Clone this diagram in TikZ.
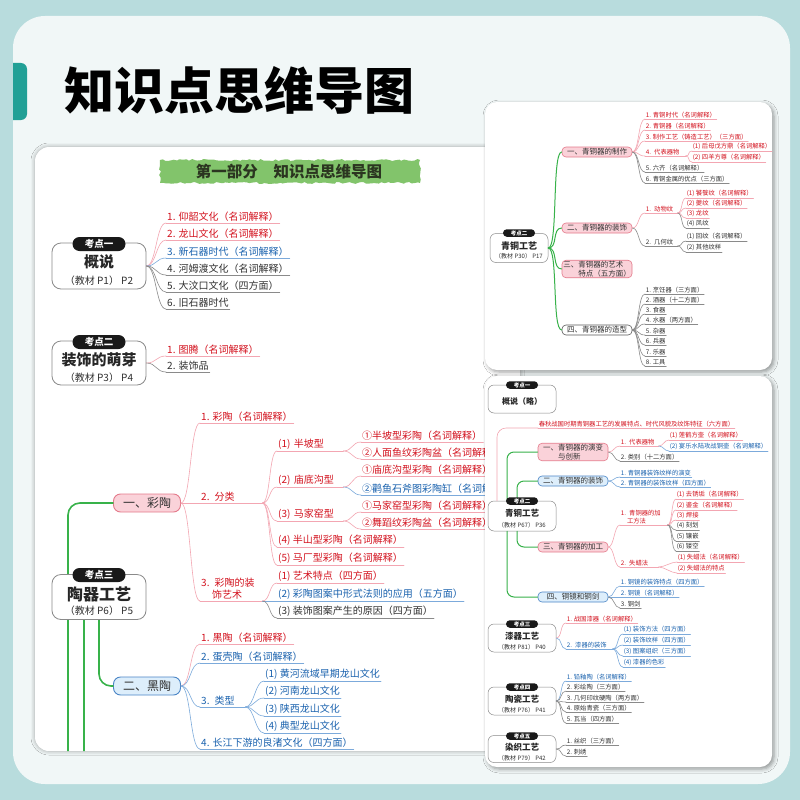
\documentclass[tikz,border=0pt]{standalone}
\usepackage{fontspec}
\setmainfont{Noto Sans CJK SC}
\usetikzlibrary{positioning,shadows.blur,decorations.pathmorphing}

\definecolor{bgteal}{HTML}{B8DCDD}
\definecolor{panel}{HTML}{F1F7F7}
\definecolor{tabteal}{HTML}{21A096}
\definecolor{rtxt}{HTML}{D3121E}
\definecolor{rln}{HTML}{F3A6B2}
\definecolor{btxt}{HTML}{1A62AE}
\definecolor{bln}{HTML}{7CAADB}
\definecolor{dtxt}{HTML}{303030}
\definecolor{dln}{HTML}{8A8A8A}
\definecolor{gln}{HTML}{38B24A}
\definecolor{pkfill}{HTML}{FAD2D9}
\definecolor{pkdraw}{HTML}{E47A8B}
\definecolor{blfill}{HTML}{DDEEFB}
\definecolor{bldraw}{HTML}{4A85C6}
\definecolor{brush}{HTML}{82C46B}
\definecolor{bantxt}{HTML}{2B3520}

\newcommand{\fs}[2]{\fontsize{#1}{#2}\selectfont}

\begin{document}
\begin{tikzpicture}[x=1pt,y=-1pt,line cap=round,line join=round,
  br/.style={to path={.. controls +(#1,0) and +(-#1,0) .. (\tikztotarget)}},br/.default=10,
  cr/.style={draw=rln,line width=0.6pt},
  cb/.style={draw=bln,line width=0.6pt},
  cd/.style={draw=dln,line width=0.6pt},
  itm/.style={anchor=south west,inner xsep=1pt,inner ysep=1.4pt,font=\fs{10}{12}},
  ri/.style={itm,text=rtxt,append after command={(\tikzlastnode.south west) edge[cr] (\tikzlastnode.south east)}},
  bi/.style={itm,text=btxt,append after command={(\tikzlastnode.south west) edge[cb] (\tikzlastnode.south east)}},
  di/.style={itm,text=dtxt,append after command={(\tikzlastnode.south west) edge[cd] (\tikzlastnode.south east)}},
  sm/.style={font=\fs{6.3}{7.8},inner xsep=0.6pt,inner ysep=0.9pt},
  fk/.style={text width=#1,align=left},
  kbox/.style={draw=dln,line width=0.8pt,fill=white,rounded corners=9pt,minimum width=94pt,minimum height=46pt,inner sep=0pt},
  pill/.style={fill=black!90,text=white,rounded corners=7pt,inner sep=0pt,minimum width=53pt,minimum height=14pt,font=\fs{9.5}{10}\bfseries},
  kt/.style={font=\fs{15}{16}\bfseries,text=black!85,inner sep=0pt},
  ks/.style={font=\fs{10}{11},text=dtxt,inner sep=0pt},
  pn/.style={fill=pkfill,draw=pkdraw,line width=0.9pt,rounded corners=7pt,minimum width=67pt,minimum height=18pt,inner sep=1pt,font=\fs{12}{13},text=dtxt},
  bn/.style={pn,fill=blfill,draw=bldraw},
  wn/.style={pn,fill=white,draw=dtxt!80},
  sn/.style={minimum width=70pt,minimum height=10pt,rounded corners=4pt,line width=0.6pt,font=\fs{7.5}{8.5},align=left},
  sbox/.style={kbox,minimum width=68pt,minimum height=28pt,rounded corners=6pt,line width=0.5pt},
  spill/.style={pill,minimum width=32pt,minimum height=7.5pt,rounded corners=3.7pt,font=\fs{5.5}{6}\bfseries},
  skt/.style={kt,font=\fs{8.5}{9}\bfseries},
  sks/.style={ks,font=\fs{6}{7}},
  gl/.style={draw=gln,line width=1.6pt},
  gls/.style={draw=gln,line width=1pt}]

  \useasboundingbox (0,0) rectangle (800,800);
  \fill[bgteal] (0,0) rectangle (800,800);
  \fill[panel,rounded corners=32pt] (13,16) rectangle (790,784);
  \begin{scope}
    \clip (13,0) rectangle (40,200);
    \fill[tabteal,rounded corners=6pt] (0,63) rectangle (27,120);
  \end{scope}
  \node[font=\fs{50}{52}\bfseries,text=black,inner sep=0pt] (ttl) at (239,90) {知识点思维导图};

  % main card
  \fill[white,rounded corners=14pt,blur shadow={shadow xshift=0pt,shadow yshift=0pt,shadow blur radius=4pt,shadow opacity=35}] (35,147) rectangle (520,751);
  \begin{scope}
  \clip[rounded corners=14pt] (35,147) rectangle (520,751);
  \fill[brush,decorate,decoration={random steps,segment length=3pt,amplitude=1pt}] (160,160) rectangle (420,183);
  \node[font=\fs{15.5}{16}\bfseries,text=bantxt,inner sep=0pt] (bann) at (289,172) {第一部分\hspace{16pt}知识点思维导图};

  % kaodian 1
  \node[kbox] (kd1) at (99,266) {};
  \node[pill] (kd1p) at (99,244) {考点一};
  \node[kt] (kd1t) at (99,262) {概说};
  \node[ks] (kd1s) at (99,281) {（教材 P1） P2};
  \node[ri] (a1) at (166,223) {1. 仰韶文化（名词解释）};
  \node[ri] (a2) at (166,240) {2. 龙山文化（名词解释）};
  \node[bi] (a3) at (166,258) {3. 新石器时代（名词解释）};
  \node[di] (a4) at (166,275) {4. 河姆渡文化（名词解释）};
  \node[di] (a5) at (166,292) {5. 大汶口文化（四方面）};
  \node[di] (a6) at (166,309) {6. 旧石器时代};
  \draw[cr] (kd1.east) to[br] (a1.south west);
  \draw[cr] (kd1.east) to[br] (a2.south west);
  \draw[cb] (kd1.east) to[br] (a3.south west);
  \draw[cd] (kd1.east) to[br] (a4.south west);
  \draw[cd] (kd1.east) to[br] (a5.south west);
  \draw[cd] (kd1.east) to[br] (a6.south west);

  % kaodian 2
  \node[kbox,minimum height=44pt] (kd2) at (99,363) {};
  \node[pill] (kd2p) at (99,342) {考点二};
  \node[kt] (kd2t) at (99,360) {装饰的萌芽};
  \node[ks] (kd2s) at (99,378) {（教材 P3） P4};
  \node[ri] (b1) at (166,356) {1. 图腾（名词解释）};
  \node[di] (b2) at (166,372) {2. 装饰品};
  \draw[cr] (kd2.east) to[br] (b1.south west);
  \draw[cd] (kd2.east) to[br] (b2.south west);

  % kaodian 3
  \node[pn] (cai) at (147,503) {一、彩陶};
  \node[bn] (hei) at (147,686) {二、黑陶};
  \draw[gl,rounded corners=12pt] (68,760) |- (cai.west);
  \draw[gl,rounded corners=12pt] (99,610) |- (hei.west);
  \draw[gl] (84,610) -- (84,760);
  \node[kbox,minimum height=45pt] (kd3) at (99,597) {};
  \node[pill] (kd3p) at (99,575) {考点三};
  \node[kt,font=\fs{16}{17}\bfseries] (kd3t) at (99,594) {陶器工艺};
  \node[ks] (kd3s) at (99,611) {（教材 P6） P5};

  \node[ri] (c1) at (200,423) {1. 彩陶（名词解释）};
  \node[ri,fk=60pt] (c2) at (200,503) {2. 分类};
  \node[ri,fk=60pt] (c3) at (200,601) {3. 彩陶的装\\\hspace{1.1em}饰艺术};
  \draw[cr] (cai.east) to[br] (c1.south west);
  \draw[cr] (cai.east) to[br] (c2.south west);
  \draw[cr] (cai.east) to[br] (c3.south west);

  \node[ri,fk=64pt] (d1) at (277,451) {(1) 半坡型};
  \node[ri,fk=64pt] (d2) at (277,487) {(2) 庙底沟型};
  \node[ri,fk=64pt] (d3) at (277,521) {(3) 马家窑型};
  \node[ri] (d4) at (277,547) {(4) 半山型彩陶（名词解释）};
  \node[ri] (d5) at (277,565) {(5) 马厂型彩陶（名词解释）};
  \draw[cr] (c2.south east) to[br=8] (d1.south west);
  \draw[cr] (c2.south east) to[br=8] (d2.south west);
  \draw[cr] (c2.south east) to[br=8] (d3.south west);
  \draw[cr] (c2.south east) to[br=8] (d4.south west);
  \draw[cr] (c2.south east) to[br=8] (d5.south west);

  \node[ri] (e1) at (361,442) {①半坡型彩陶（名词解释）};
  \node[ri] (e2) at (361,459) {②人面鱼纹彩陶盆（名词解释）};
  \node[ri] (e3) at (361,476) {①庙底沟型彩陶（名词解释）};
  \node[bi] (e4) at (361,495) {②鹳鱼石斧图彩陶缸（名词解释）};
  \node[ri] (e5) at (361,512) {①马家窑型彩陶（名词解释）};
  \node[ri] (e6) at (361,529) {②舞蹈纹彩陶盆（名词解释）};
  \draw[cr] (d1.south east) to[br=9] (e1.south west);
  \draw[cr] (d1.south east) to[br=9] (e2.south west);
  \draw[cr] (d2.south east) to[br=9] (e3.south west);
  \draw[cb] (d2.south east) to[br=9] (e4.south west);
  \draw[cr] (d3.south east) to[br=9] (e5.south west);
  \draw[cr] (d3.south east) to[br=9] (e6.south west);

  \node[ri] (f1) at (277,583) {(1) 艺术特点（四方面）};
  \node[bi] (f2) at (277,601) {(2) 彩陶图案中形式法则的应用（五方面）};
  \node[di] (f3) at (277,618) {(3) 装饰图案产生的原因（四方面）};
  \draw[cr] (c3.south east) to[br=8] (f1.south west);
  \draw[cb] (c3.south east) to[br=8] (f2.south west);
  \draw[cd] (c3.south east) to[br=8] (f3.south west);

  \node[ri] (g1) at (200,644) {1. 黑陶（名词解释）};
  \node[bi] (g2) at (200,663) {2. 蛋壳陶（名词解释）};
  \node[bi,fk=43pt] (g3) at (200,707) {3. 类型};
  \node[bi] (g4) at (200,749) {4. 长江下游的良渚文化（四方面）};
  \draw[cr] (hei.east) to[br] (g1.south west);
  \draw[cb] (hei.east) to[br] (g2.south west);
  \draw[cb] (hei.east) to[br] (g3.south west);
  \draw[cb] (hei.east) to[br] (g4.south west);

  \node[bi] (h1) at (264,681) {(1) 黄河流域早期龙山文化};
  \node[bi] (h2) at (264,698) {(2) 河南龙山文化};
  \node[bi] (h3) at (264,716) {(3) 陕西龙山文化};
  \node[bi] (h4) at (264,733) {(4) 典型龙山文化};
  \draw[cb] (g3.south east) to[br=9] (h1.south west);
  \draw[cb] (g3.south east) to[br=9] (h2.south west);
  \draw[cb] (g3.south east) to[br=9] (h3.south west);
  \draw[cb] (g3.south east) to[br=9] (h4.south west);
  \end{scope}

  % top right card
  \fill[white,rounded corners=12pt,blur shadow={shadow xshift=2pt,shadow yshift=-2pt,shadow blur radius=4pt,shadow opacity=40}] (485,102) rectangle (772,370);
  \node[pn,sn] (q1) at (597,152) {一、青铜器的制作};
  \node[pn,sn] (q2) at (597,228) {二、青铜器的装饰};
  \node[pn,sn] (q3) at (597,269) {三、青铜器的艺术\\\hspace{2em}特点（五方面）};
  \node[wn,sn] (q4) at (597,330) {四、青铜器的造型};
  \node[sbox,minimum width=58pt,minimum height=29pt] (kdb) at (519,248) {};
  \node[spill] (kdbp) at (519,233) {考点二};
  \node[skt,font=\fs{9}{10}\bfseries] (kdbt) at (519,246) {青铜工艺};
  \node[sks] (kdbs) at (519,256) {（教材 P30） P17};
  \draw[gls] (kdb.east) to[br=10] (q1.west);
  \draw[gls] (kdb.east) to[br=10] (q2.west);
  \draw[gls] (kdb.east) to[br=10] (q3.west);
  \draw[gls] (kdb.east) to[br=10] (q4.west);

  \node[ri,sm] (r1) at (645,119) {1. 青铜时代（名词解释）};
  \node[ri,sm] (r2) at (645,130) {2. 青铜器（名词解释）};
  \node[ri,sm] (r3) at (645,141) {3. 制作工艺（铸造工艺）（三方面）};
  \node[ri,sm,fk=39pt] (r4) at (645,156) {4. 代表器物};
  \node[di,sm] (r5) at (645,172) {5. 六齐（名词解释）};
  \node[di,sm] (r6) at (645,183) {6. 青铜金属的优点（三方面）};
  \draw[cr] (q1.east) to[br=7] (r1.south west);
  \draw[cr] (q1.east) to[br=7] (r2.south west);
  \draw[cr] (q1.east) to[br=7] (r3.south west);
  \draw[cr] (q1.east) to[br=7] (r4.south west);
  \draw[cd] (q1.east) to[br=7] (r5.south west);
  \draw[cd] (q1.east) to[br=7] (r6.south west);
  \node[ri,sm] (s1) at (692,151) {(1) 后母戊方鼎（名词解释）};
  \node[ri,sm] (s2) at (692,162) {(2) 四羊方尊（名词解释）};
  \draw[cr] (r4.south east) to[br=5] (s1.south west);
  \draw[cr] (r4.south east) to[br=5] (s2.south west);

  \node[ri,sm,fk=31pt] (t1) at (645,213) {1. 动物纹};
  \node[di,sm,fk=31pt] (t2) at (645,246) {2. 几何纹};
  \draw[cr] (q2.east) to[br=7] (t1.south west);
  \draw[cd] (q2.east) to[br=7] (t2.south west);
  \node[ri,sm] (u1) at (686,198) {(1) 饕餮纹（名词解释）};
  \node[ri,sm] (u2) at (686,208) {(2) 夔纹（名词解释）};
  \node[ri,sm] (u3) at (686,218) {(3) 龙纹};
  \node[di,sm] (u4) at (686,228) {(4) 凤纹};
  \node[di,sm] (u5) at (686,241) {(1) 回纹（名词解释）};
  \node[di,sm] (u6) at (686,252) {(2) 其他纹样};
  \draw[cr] (t1.south east) to[br=5] (u1.south west);
  \draw[cr] (t1.south east) to[br=5] (u2.south west);
  \draw[cr] (t1.south east) to[br=5] (u3.south west);
  \draw[cd] (t1.south east) to[br=5] (u4.south west);
  \draw[cd] (t2.south east) to[br=5] (u5.south west);
  \draw[cd] (t2.south east) to[br=5] (u6.south west);

  \node[di,sm] (v1) at (645,294) {1. 烹饪器（三方面）};
  \node[di,sm] (v2) at (645,304) {2. 酒器（十二方面）};
  \node[di,sm] (v3) at (645,314) {3. 食器};
  \node[di,sm] (v4) at (645,324) {4. 水器（两方面）};
  \node[di,sm] (v5) at (645,335) {5. 杂器};
  \node[di,sm] (v6) at (645,345) {6. 兵器};
  \node[di,sm] (v7) at (645,356) {7. 乐器};
  \node[di,sm] (v8) at (645,366) {8. 工具};
  \draw[cd] (q4.east) to[br=7] (v1.south west);
  \draw[cd] (q4.east) to[br=7] (v2.south west);
  \draw[cd] (q4.east) to[br=7] (v3.south west);
  \draw[cd] (q4.east) to[br=7] (v4.south west);
  \draw[cd] (q4.east) to[br=7] (v5.south west);
  \draw[cd] (q4.east) to[br=7] (v6.south west);
  \draw[cd] (q4.east) to[br=7] (v7.south west);
  \draw[cd] (q4.east) to[br=7] (v8.south west);

  % bottom right card
  \fill[white,rounded corners=12pt,blur shadow={shadow xshift=2pt,shadow yshift=-2pt,shadow blur radius=4pt,shadow opacity=40}] (485,376) rectangle (772,767);
  \node[sbox] (ka) at (522,399) {};
  \node[spill] (kap) at (522,385) {考点一};
  \node[skt,font=\fs{8}{9}\bfseries] (kat) at (522,401) {概说（略）};

  \node[ri,sm] (w0) at (538,428) {春秋战国时期青铜器工艺的发展特点、时代风貌及纹饰特征（六方面）};
  \node[pn,sn] (m1) at (573,452) {一、青铜器的演变\\\hspace{2em}与创新};
  \node[bn,sn] (m2) at (573,481) {二、青铜器的装饰};
  \node[pn,sn] (m3) at (573,547) {三、青铜器的加工};
  \node[bn,sn] (m4) at (573,597) {四、铜镜和铜剑};
  \node[sbox,minimum height=30pt] (kb) at (522,516) {};
  \draw[cr,rounded corners=9pt] ([xshift=-25pt]kb.north) |- (w0.south west);
  \draw[gls,rounded corners=7pt] ([xshift=-15pt]kb.north) |- (m1.west);
  \draw[gls,rounded corners=7pt] ([xshift=-5pt]kb.north) |- (m2.west);
  \draw[gls,rounded corners=7pt] ([xshift=-5pt]kb.south) |- (m3.west);
  \draw[gls,rounded corners=7pt] ([xshift=-15pt]kb.south) |- (m4.west);
  \node[spill] (kbp) at (522,501) {考点二};
  \node[skt] (kbt) at (522,513) {青铜工艺};
  \node[sks] (kbs) at (522,525) {（教材 P67） P36};

  \node[ri,sm,fk=37pt] (n1) at (620,446) {1. 代表器物};
  \node[di,sm] (n2) at (620,461) {2. 类别（十二方面）};
  \draw[cr] (m1.east) to[br=6] (n1.south west);
  \draw[cd] (m1.east) to[br=6] (n2.south west);
  \node[ri,sm] (o1) at (669,440) {(1) 莲鹤方壶（名词解释）};
  \node[bi,sm] (o2) at (669,451) {(2) 宴乐水陆攻战铜壶（名词解释）};
  \draw[cr] (n1.south east) to[br=5] (o1.south west);
  \draw[cb] (n1.south east) to[br=5] (o2.south west);

  \node[bi,sm] (n3) at (620,477) {1. 青铜器装饰纹样的演变};
  \node[bi,sm] (n4) at (620,487) {2. 青铜器的装饰纹样（四方面）};
  \draw[cb] (m2.east) to[br=6] (n3.south west);
  \draw[cb] (m2.east) to[br=6] (n4.south west);

  \node[ri,sm,fk=46pt] (n5) at (620,525) {1. 青铜器的加\\\hspace{1em}工方法};
  \node[ri,sm,fk=37pt] (n6) at (620,567) {2. 失蜡法};
  \draw[cr] (m3.east) to[br=6] (n5.south west);
  \draw[cr] (m3.east) to[br=6] (n6.south west);
  \node[ri,sm] (o3) at (676,499) {(1) 去锈垢（名词解释）};
  \node[ri,sm] (o4) at (676,510) {(2) 鎏金（名词解释）};
  \node[ri,sm] (o5) at (676,520) {(3) 焊接};
  \node[di,sm] (o6) at (676,530) {(4) 刻划};
  \node[di,sm] (o7) at (676,541) {(5) 镶嵌};
  \node[di,sm] (o8) at (676,551) {(6) 镂空};
  \draw[cr] (n5.south east) to[br=5] (o3.south west);
  \draw[cr] (n5.south east) to[br=5] (o4.south west);
  \draw[cr] (n5.south east) to[br=5] (o5.south west);
  \draw[cd] (n5.south east) to[br=5] (o6.south west);
  \draw[cd] (n5.south east) to[br=5] (o7.south west);
  \draw[cd] (n5.south east) to[br=5] (o8.south west);
  \node[ri,sm] (o9) at (677,562) {(1) 失蜡法（名词解释）};
  \node[ri,sm] (o10) at (677,573) {(2) 失蜡法的特点};
  \draw[cr] (n6.south east) to[br=6] (o9.south west);
  \draw[cr] (n6.south east) to[br=6] (o10.south west);

  \node[bi,sm] (n7) at (620,586) {1. 铜镜的装饰特点（四方面）};
  \node[bi,sm] (n8) at (620,597) {2. 铜镜（名词解释）};
  \node[di,sm] (n9) at (620,608) {3. 铜剑};
  \draw[cb] (m4.east) to[br=6] (n7.south west);
  \draw[cb] (m4.east) to[br=6] (n8.south west);
  \draw[cd] (m4.east) to[br=6] (n9.south west);

  % kaodian 3-5
  \node[sbox] (kc) at (522,638) {};
  \node[spill] (kcp) at (522,624) {考点三};
  \node[skt] (kct) at (522,636) {漆器工艺};
  \node[sks] (kcs) at (522,647) {（教材 P81） P40};
  \node[ri,sm] (x1) at (566,623) {1. 战国漆器（名词解释）};
  \node[bi,sm,fk=45pt] (x2) at (566,649) {2. 漆器的装饰};
  \draw[cr] (kc.east) to[br=6] (x1.south west);
  \draw[cb] (kc.east) to[br=6] (x2.south west);
  \node[bi,sm] (y1) at (623,634) {(1) 装饰方法（四方面）};
  \node[bi,sm] (y2) at (623,645) {(2) 装饰纹样（四方面）};
  \node[bi,sm] (y3) at (623,656) {(3) 图案组织（三方面）};
  \node[bi,sm] (y4) at (623,667) {(4) 漆器的色彩};
  \draw[cb] (x2.south east) to[br=6] (y1.south west);
  \draw[cb] (x2.south east) to[br=6] (y2.south west);
  \draw[cb] (x2.south east) to[br=6] (y3.south west);
  \draw[cb] (x2.south east) to[br=6] (y4.south west);

  \node[sbox] (kd) at (522,701) {};
  \node[spill] (kdp) at (522,687) {考点四};
  \node[skt] (kdt) at (522,699) {陶瓷工艺};
  \node[sks] (kds) at (522,710) {（教材 P76） P41};
  \node[bi,sm] (z1) at (566,681) {1. 铅釉陶（名词解释）};
  \node[di,sm] (z2) at (566,691) {2. 彩绘陶（三方面）};
  \node[di,sm] (z3) at (566,702) {3. 几何印纹硬陶（两方面）};
  \node[di,sm] (z4) at (566,712) {4. 原始青瓷（三方面）};
  \node[di,sm] (z5) at (566,723) {5. 瓦当（四方面）};
  \draw[cb] (kd.east) to[br=6] (z1.south west);
  \draw[cd] (kd.east) to[br=6] (z2.south west);
  \draw[cd] (kd.east) to[br=6] (z3.south west);
  \draw[cd] (kd.east) to[br=6] (z4.south west);
  \draw[cd] (kd.east) to[br=6] (z5.south west);

  \node[sbox,minimum height=27pt] (ke) at (522,749) {};
  \node[spill] (kep) at (522,736) {考点五};
  \node[skt] (ket) at (522,747) {染织工艺};
  \node[sks] (kes) at (522,758) {（教材 P79） P42};
  \node[di,sm] (z6) at (566,745) {1. 丝织（三方面）};
  \node[di,sm] (z7) at (566,756) {2. 刺绣};
  \draw[cd] (ke.east) to[br=6] (z6.south west);
  \draw[cd] (ke.east) to[br=6] (z7.south west);
\end{tikzpicture}
\end{document}
